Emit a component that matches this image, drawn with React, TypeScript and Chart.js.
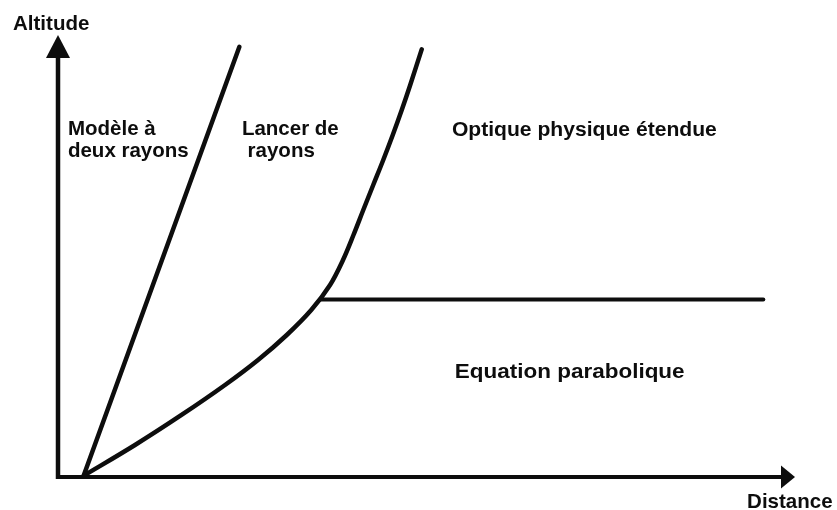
import React, { useEffect, useRef } from "react";
import { Chart, registerables } from "chart.js";

Chart.register(...registerables);

// Data (arbitrary units: distance 0..100, altitude 0..100)
const twoRayX = [3.5, 24.6];
const twoRayY = [0.4, 97.3];
const rayTraceX = [3.53, 10.45, 16.76, 22.66, 27.14, 31.04, 34.36, 36.91, 38.67, 40.09, 41.42, 42.77, 44.13, 45.42, 46.64, 47.79, 49.35];
const rayTraceY = [0.34, 7.24, 14.03, 20.81, 26.47, 32.13, 37.78, 43.44, 49.1, 54.75, 60.41, 66.06, 71.72, 77.38, 83.03, 88.69, 96.76];
const boundaryX = [35.62, 95.7];
const boundaryY = [40.16, 40.16];

const axisTitles = ["Altitude", "Distance"];
const regionLabels = [
  ["Modèle à", "deux rayons"],
  ["Lancer de", " rayons"],
  ["Optique physique étendue"],
  ["Equation parabolique"],
];

// label anchors (data units) and typography – layout, not data
const axisTitleAnchors = [
  { x: -6.1, y: 101.1 },
  { x: 93.5, y: -7.0 },
];
const regionAnchors = [
  { x: 1.35, y: 77.4 },
  { x: 24.95, y: 77.4 },
  { x: 53.45, y: 77.2 },
  { x: 53.85, y: 22.4 },
];
const regionFont = [
  { size: 20.5, stretch: 1 },
  { size: 20.5, stretch: 1 },
  { size: 21.1, stretch: 1 },
  { size: 21, stretch: 1.07 },
];

const toPts = (xs: number[], ys: number[]) => xs.map((x, i) => ({ x, y: ys[i] }));

const INK = "#0d0d0d";
const fontOf = (s: number) => `bold ${s}px 'Liberation Sans', Arial, sans-serif`;

const diagramPlugin = {
  id: "diagram",
  beforeDatasetsDraw(chart: any) {
    const { ctx, scales } = chart;
    const xs = scales.x;
    const ys = scales.y;
    const x0 = xs.getPixelForValue(0);
    const y0 = ys.getPixelForValue(0);
    const yTop = ys.getPixelForValue(100);
    const xEnd = xs.getPixelForValue(100);
    ctx.save();
    ctx.strokeStyle = INK;
    ctx.fillStyle = INK;
    ctx.lineWidth = 4.5;
    ctx.lineCap = "butt";
    ctx.beginPath();
    ctx.moveTo(x0, y0 + 2);
    ctx.lineTo(x0, yTop + 20);
    ctx.stroke();
    ctx.lineWidth = 4;
    ctx.beginPath();
    ctx.moveTo(x0 - 2, y0);
    ctx.lineTo(xEnd - 12, y0);
    ctx.stroke();
    ctx.beginPath();
    ctx.moveTo(x0, yTop);
    ctx.lineTo(x0 - 12, yTop + 23);
    ctx.lineTo(x0 + 12, yTop + 23);
    ctx.closePath();
    ctx.fill();
    ctx.beginPath();
    ctx.moveTo(xEnd, y0);
    ctx.lineTo(xEnd - 14, y0 - 11.5);
    ctx.lineTo(xEnd - 14, y0 + 11.5);
    ctx.closePath();
    ctx.fill();
    ctx.restore();
  },
  afterDraw(chart: any) {
    const { ctx, scales } = chart;
    const xs = scales.x;
    const ys = scales.y;
    ctx.save();
    ctx.fillStyle = INK;
    ctx.textAlign = "left";
    ctx.textBaseline = "alphabetic";
    ctx.font = fontOf(20.5);
    axisTitles.forEach((t, i) => {
      const a = axisTitleAnchors[i];
      ctx.fillText(t, xs.getPixelForValue(a.x), ys.getPixelForValue(a.y));
    });
    regionLabels.forEach((lines, i) => {
      const a = regionAnchors[i];
      const f = regionFont[i];
      const px = xs.getPixelForValue(a.x);
      const py = ys.getPixelForValue(a.y);
      ctx.font = fontOf(f.size);
      lines.forEach((ln, j) => {
        ctx.save();
        ctx.translate(px, py + j * 22);
        ctx.scale(f.stretch, 1);
        ctx.fillText(ln, 0, 0);
        ctx.restore();
      });
    });
    ctx.restore();
  },
};

export default function App() {
  const ref = useRef<HTMLCanvasElement | null>(null);
  useEffect(() => {
    if (!ref.current) return;
    const line = {
      borderColor: INK,
      borderWidth: 4.5,
      pointRadius: 0,
      showLine: true,
      fill: false,
      borderCapStyle: "round" as const,
      borderJoinStyle: "round" as const,
    };
    const chart = new Chart(ref.current, {
      type: "scatter",
      data: {
        datasets: [
          { ...line, label: "Modèle à deux rayons", data: toPts(twoRayX, twoRayY) },
          {
            ...line,
            label: "Lancer de rayons",
            data: toPts(rayTraceX, rayTraceY),
            tension: 0.35,
          },
          { ...line, label: "Frontière", borderWidth: 4, data: toPts(boundaryX, boundaryY) },
        ],
      },
      options: {
        responsive: false,
        animation: false,
        layout: { padding: { left: 58, right: 42, top: 35, bottom: 33 } },
        plugins: { legend: { display: false }, tooltip: { enabled: false } },
        scales: {
          x: { type: "linear", min: 0, max: 100, display: false },
          y: { type: "linear", min: 0, max: 100, display: false },
        },
      },
      plugins: [diagramPlugin],
    });
    return () => chart.destroy();
  }, []);
  return (
    <div style={{ position: "absolute", left: 0, top: 0, width: 837, height: 510, background: "#fff" }}>
      <canvas ref={ref} width={837} height={510} style={{ display: "block" }} />
    </div>
  );
}
